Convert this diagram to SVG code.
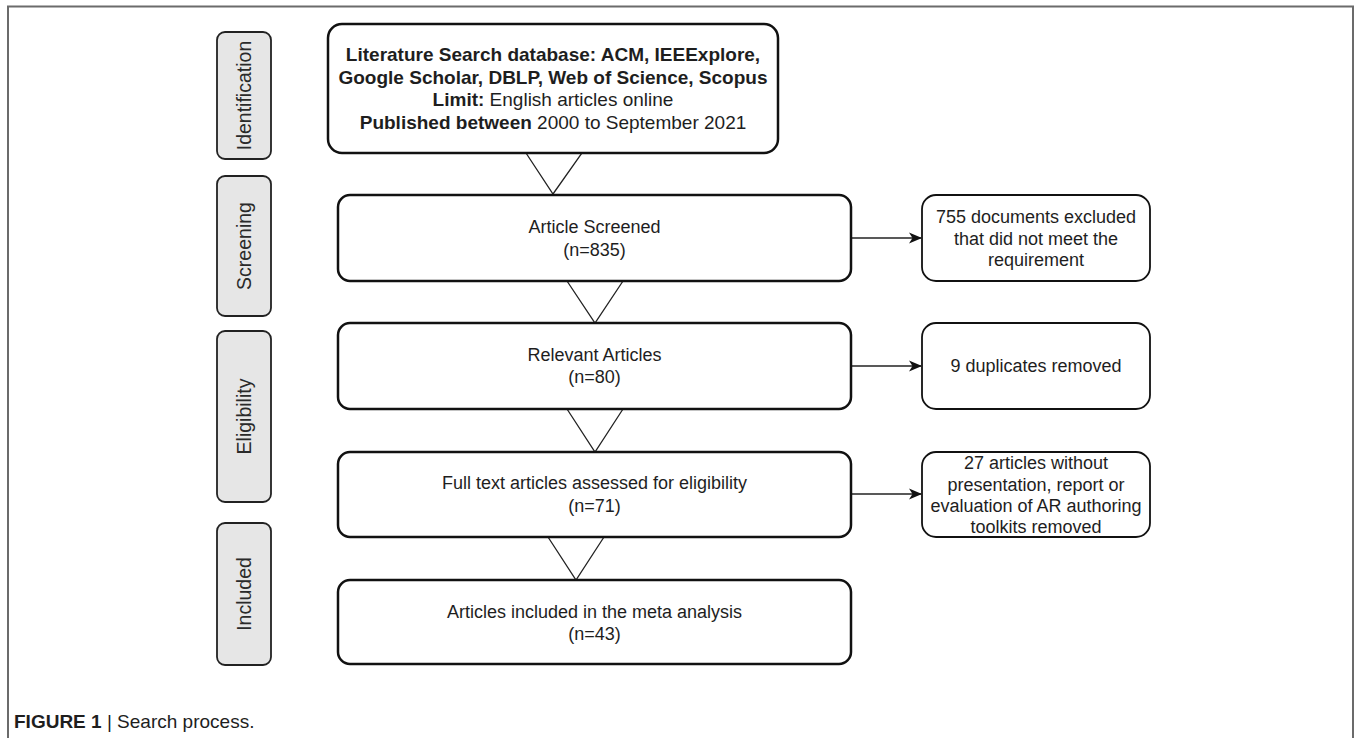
<svg xmlns="http://www.w3.org/2000/svg" width="1356" height="738" viewBox="0 0 1356 738">
  <style>
    .frame { fill: none; stroke: #6b6b6b; stroke-width: 2; }
    .main { fill: #ffffff; stroke: #111; stroke-width: 2.5; }
    .side { fill: #e6e6e6; stroke: #222; stroke-width: 1.8; }
    .rbox { fill: #ffffff; stroke: #111; stroke-width: 1.8; }
    .tri { fill: #ffffff; stroke: #222; stroke-width: 1.3; }
    .arrow { fill: none; stroke: #222; stroke-width: 1.5; }
    text { font-family: "Liberation Sans", Arial, sans-serif; fill: #1e1e1e; }
    .t { font-size: 18px; text-anchor: middle; dominant-baseline: central; }
    .t1 { font-size: 19px; text-anchor: middle; dominant-baseline: central; }
    .b { font-weight: bold; }
    .lbl { font-size: 19.5px; text-anchor: middle; dominant-baseline: central; fill: #2a2a2a; }
    .cap { font-size: 19px; }
  </style>
  <defs>
    <marker id="ah" viewBox="0 0 13 12" refX="12" refY="6" markerWidth="13" markerHeight="12" markerUnits="userSpaceOnUse" orient="auto">
      <path d="M0,0.5 L13,6 L0,11.5 L3.5,6 Z" fill="#111"/>
    </marker>
  </defs>

  <path class="frame" d="M8,738 V6.5 H1353 V738"/>

  <g id="label-identification">
    <rect class="side" x="217" y="32" width="54" height="127" rx="8"/>
    <text class="lbl" transform="translate(244,95.5) rotate(-90)">Identification</text>
  </g>
  <g id="label-screening">
    <rect class="side" x="217" y="176" width="54" height="140" rx="8"/>
    <text class="lbl" transform="translate(244,246) rotate(-90)">Screening</text>
  </g>
  <g id="label-eligibility">
    <rect class="side" x="217" y="331" width="54" height="171" rx="8"/>
    <text class="lbl" transform="translate(244,416.5) rotate(-90)">Eligibility</text>
  </g>
  <g id="label-included">
    <rect class="side" x="217" y="523" width="54" height="142" rx="8"/>
    <text class="lbl" transform="translate(244,594) rotate(-90)">Included</text>
  </g>

  <g id="connectors">
    <polygon class="tri" points="526,153 582,153 553,194"/>
    <polygon class="tri" points="567,281 623,281 595,323"/>
    <polygon class="tri" points="567,409 623,409 595,452"/>
    <polygon class="tri" points="548,537 604,537 576,580"/>
    <line class="arrow" x1="851" y1="238" x2="921" y2="238" marker-end="url(#ah)"/>
    <line class="arrow" x1="851" y1="366" x2="921" y2="366" marker-end="url(#ah)"/>
    <line class="arrow" x1="851" y1="494" x2="921" y2="494" marker-end="url(#ah)"/>
  </g>

  <g id="node-search">
    <rect class="main" x="328" y="24" width="450" height="129" rx="14"/>
    <text class="t1 b" x="553" y="54">Literature Search database: ACM, IEEExplore,</text>
    <text class="t1 b" x="553" y="77">Google Scholar, DBLP, Web of Science, Scopus</text>
    <text class="t1" x="553" y="99"><tspan class="b">Limit:</tspan> English articles online</text>
    <text class="t1" x="553" y="122"><tspan class="b">Published between</tspan> 2000 to September 2021</text>
  </g>

  <g id="node-screened">
    <rect class="main" x="338" y="195" width="513" height="86" rx="12"/>
    <text class="t" x="594.5" y="227">Article Screened</text>
    <text class="t" x="594.5" y="250">(n=835)</text>
  </g>

  <g id="node-relevant">
    <rect class="main" x="338" y="323" width="513" height="86" rx="12"/>
    <text class="t" x="594.5" y="355">Relevant Articles</text>
    <text class="t" x="594.5" y="377">(n=80)</text>
  </g>

  <g id="node-fulltext">
    <rect class="main" x="338" y="452" width="513" height="85" rx="12"/>
    <text class="t" x="594.5" y="483">Full text articles assessed for eligibility</text>
    <text class="t" x="594.5" y="506">(n=71)</text>
  </g>

  <g id="node-included">
    <rect class="main" x="338" y="580" width="513" height="84" rx="12"/>
    <text class="t" x="594.5" y="612">Articles included in the meta analysis</text>
    <text class="t" x="594.5" y="634">(n=43)</text>
  </g>

  <g id="node-excluded">
    <rect class="rbox" x="922" y="195" width="228" height="86" rx="14"/>
    <text class="t" x="1036" y="217">755 documents excluded</text>
    <text class="t" x="1036" y="239">that did not meet the</text>
    <text class="t" x="1036" y="260">requirement</text>
  </g>

  <g id="node-duplicates">
    <rect class="rbox" x="922" y="323" width="228" height="86" rx="14"/>
    <text class="t" x="1036" y="366">9 duplicates removed</text>
  </g>

  <g id="node-removed">
    <rect class="rbox" x="922" y="452" width="228" height="85" rx="14"/>
    <text class="t" x="1036" y="463">27 articles without</text>
    <text class="t" x="1036" y="485">presentation, report or</text>
    <text class="t" x="1036" y="506">evaluation of AR authoring</text>
    <text class="t" x="1036" y="527">toolkits removed</text>
  </g>

  <text class="cap" x="14" y="728"><tspan font-weight="bold">FIGURE 1</tspan> | Search process.</text>
</svg>
